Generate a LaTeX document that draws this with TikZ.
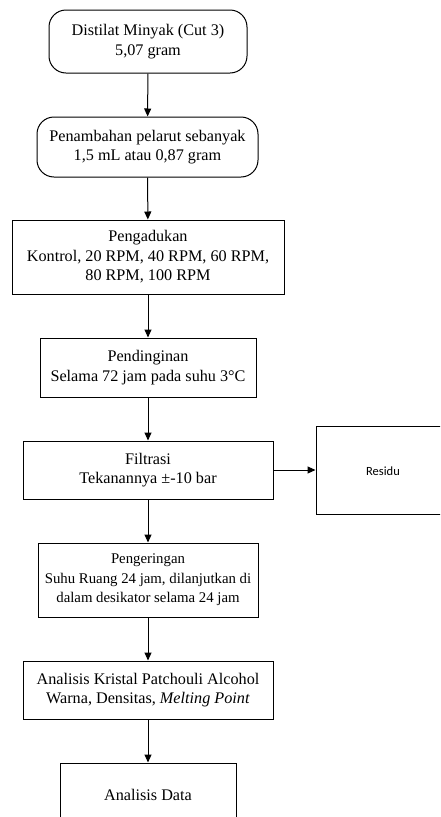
\documentclass[tikz,border=0pt]{standalone}
\usepackage{fontspec}
\setmainfont{Liberation Serif}
\newfontfamily\calib{Carlito}
\usetikzlibrary{arrows.meta}
\tikzset{
  box/.style={draw=black, line width=1pt, align=center, inner sep=0pt, font=\fontsize{16.2}{19.6}\selectfont},
  rbox/.style={box, rounded corners=17pt},
  flow/.style={draw=black, line width=1pt, -{Triangle[length=8pt,width=7pt]}}
}
\begin{document}
\begin{tikzpicture}[x=1pt,y=-1pt]
\useasboundingbox (0,0) rectangle (440,817);
\begin{scope}
\clip (0,0) rectangle (440,817);
\node[rbox, minimum width=198pt, minimum height=63pt] (n1) at (148,41.5) {Distilat Minyak (Cut 3)\\5,07 gram};
\node[rbox, minimum width=221pt, minimum height=60pt] (n2) at (147.5,147) {Penambahan pelarut sebanyak\\1,5 mL atau 0,87 gram};
\node[box, minimum width=272pt, minimum height=74pt] (n3) at (148,257) {Pengadukan\\Kontrol, 20 RPM, 40 RPM, 60 RPM,\\80 RPM, 100 RPM};
\node[box, minimum width=216pt, minimum height=59pt] (n4) at (148,367.5) {Pendinginan\\Selama 72 jam pada suhu 3\textdegree C};
\node[box, minimum width=250pt, minimum height=58pt] (n5) at (148,470) {Filtrasi\\Tekanannya \textpm-10 bar};
\node[box, minimum width=130pt, minimum height=88pt] (res) at (381,470) {};
\node[font=\calib\fontsize{12.5}{14}\selectfont, inner sep=0pt] (restext) at (383,471) {Residu};
\node[box, minimum width=220pt, minimum height=74pt, font=\fontsize{14.8}{19.6}\selectfont] (n6) at (148,580) {Pengeringan\\Suhu Ruang 24 jam, dilanjutkan di\\dalam desikator selama 24 jam};
\node[box, minimum width=250pt, minimum height=58pt] (n7) at (148,690) {Analisis Kristal Patchouli Alcohol\\Warna, Densitas, \textit{Melting Point}};
\node[box, minimum width=176pt, minimum height=63pt] (n8) at (148,794.5) {Analisis Data};
\draw[flow] (n1) -- (n2);
\draw[flow] (n2) -- (n3);
\draw[flow] (n3) -- (n4);
\draw[flow] (n4) -- (n5);
\draw[flow] (n5) -- (res);
\draw[flow] (n5) -- (n6);
\draw[flow] (n6) -- (n7);
\draw[flow] (n7) -- (n8);
\end{scope}
\end{tikzpicture}
\end{document}
